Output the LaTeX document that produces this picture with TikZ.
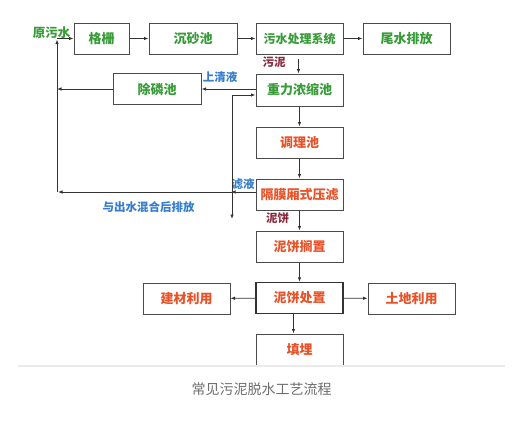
\documentclass[tikz,border=0pt]{standalone}
\usepackage{fontspec}
\setmainfont{Noto Sans CJK SC}
\usetikzlibrary{arrows.meta}
\definecolor{tgreen}{RGB}{55,155,55}
\definecolor{tred}{RGB}{232,82,40}
\definecolor{tblue}{RGB}{55,125,205}
\definecolor{tmaroon}{RGB}{140,40,60}
\definecolor{bordc}{RGB}{75,75,75}
\definecolor{capc}{RGB}{110,110,110}
\tikzset{
  box/.style={draw=bordc, line width=1pt, minimum height=31pt, inner sep=0pt, font=\fontsize{13}{13}\selectfont\bfseries},
  gbox/.style={box, text=tgreen},
  rbox/.style={box, text=tred},
  lbl/.style={font=\fontsize{11.5}{11.5}\selectfont\bfseries, inner sep=0pt},
  conn/.style={draw=black!80, line width=0.8pt, -{Latex[length=4.5pt,width=3.5pt]}},
  plain/.style={draw=black!80, line width=0.8pt}
}
\begin{document}
\begin{tikzpicture}[x=1pt,y=-1pt]
\useasboundingbox (0,0) rectangle (513,424);
\fill[white] (0,0) rectangle (513,424);
% top row
\node[gbox, minimum width=55pt] (gs) at (101.5,38.5) {格栅};
\node[gbox, minimum width=88pt] (cs) at (193,38.5) {沉砂池};
\node[gbox, minimum width=87pt, font=\fontsize{12}{12}\selectfont\bfseries] (ws) at (299.5,38.5) {污水处理系统};
\node[gbox, minimum width=87pt] (ww) at (406.5,38.5) {尾水排放};
% second row
\node[gbox, minimum width=87pt, minimum height=32pt] (zl) at (299.5,90) {重力浓缩池};
\node[gbox, minimum width=88pt] (cl) at (157,89) {除磷池};
% column
\node[rbox, minimum width=87pt] (tl) at (299.5,142.5) {调理池};
\node[rbox, minimum width=87pt] (gm) at (299.5,194.5) {隔膜厢式压滤};
\node[rbox, minimum width=87pt] (bz) at (299.5,246.5) {泥饼搁置};
\node[rbox, minimum width=87pt, line width=1.4pt, draw=black!80] (cz) at (299.5,298) {泥饼处置};
\node[rbox, minimum width=87pt] (jc) at (186.5,298.5) {建材利用};
\node[rbox, minimum width=87pt] (td) at (411.5,298.5) {土地利用};
\node[rbox, minimum width=87pt] (tm) at (299.5,349.5) {填埋};
% labels
\node[lbl, text=tgreen, font=\fontsize{12.5}{12.5}\selectfont\bfseries] (yws) at (51.5,33) {原污水};
\node[lbl, text=tmaroon] (wn) at (274,62) {污泥};
\node[lbl, text=tblue] (sqy) at (220,77) {上清液};
\node[lbl, text=tblue] (ly) at (243,184) {滤液};
\node[lbl, text=tmaroon] (nb) at (277.5,218) {泥饼};
\node[lbl, text=tblue] (hh) at (148.5,207) {与出水混合后排放};
% coordinates
\coordinate (L1) at (57,192);
\coordinate (L2) at (57,39.5);
\coordinate (L3) at (57,89);
\coordinate (V1) at (232,95);
\coordinate (V2) at (232,219);
\coordinate (V3) at (232,192);
\coordinate (Z1) at (zl.west |- V1);
\coordinate (G1) at (gm.west |- V3);
% connectors
\draw[conn] (gs) -- (cs);
\draw[conn] (cs) -- (ws);
\draw[conn] (ws) -- (ww);
\draw[conn] (L2 |- gs.west) -- (gs.west);
\draw[conn] (L1) -- (L2);
\draw[conn] ([xshift=-1pt]ws.south) ++(0,4) -- ([xshift=-1pt]zl.north);
\draw[conn] (zl.west |- cl.east) -- (cl.east);
\draw[conn] (cl.west) -- (L3);
\draw[draw=black!80, line width=0.8pt, {Latex[length=4.5pt,width=3.5pt]}-{Latex[length=4.5pt,width=3.5pt]}] (V2) -- (V1) -- (Z1);
\draw[conn] (G1) -- ([xshift=-1pt]V3);
\draw[conn] (V3) -- ([xshift=1pt]L1);
\draw[conn] (zl) -- (tl);
\draw[conn] (tl) -- (gm);
\draw[conn] (gm) -- (bz);
\draw[conn] (bz) -- (cz);
\draw[conn] (cz) -- (jc);
\draw[conn] (cz) -- (td);
\draw[conn] ([xshift=-6pt]cz.south) -- ([xshift=-6pt]tm.north);
% separator and caption
\draw[draw=black!8, line width=1.5pt] (18,366) -- (505,366);
\node[text=capc, font=\fontsize{14}{14}\selectfont, inner sep=0pt] (cap) at (261.5,389) {常见污泥脱水工艺流程};
\end{tikzpicture}
\end{document}
